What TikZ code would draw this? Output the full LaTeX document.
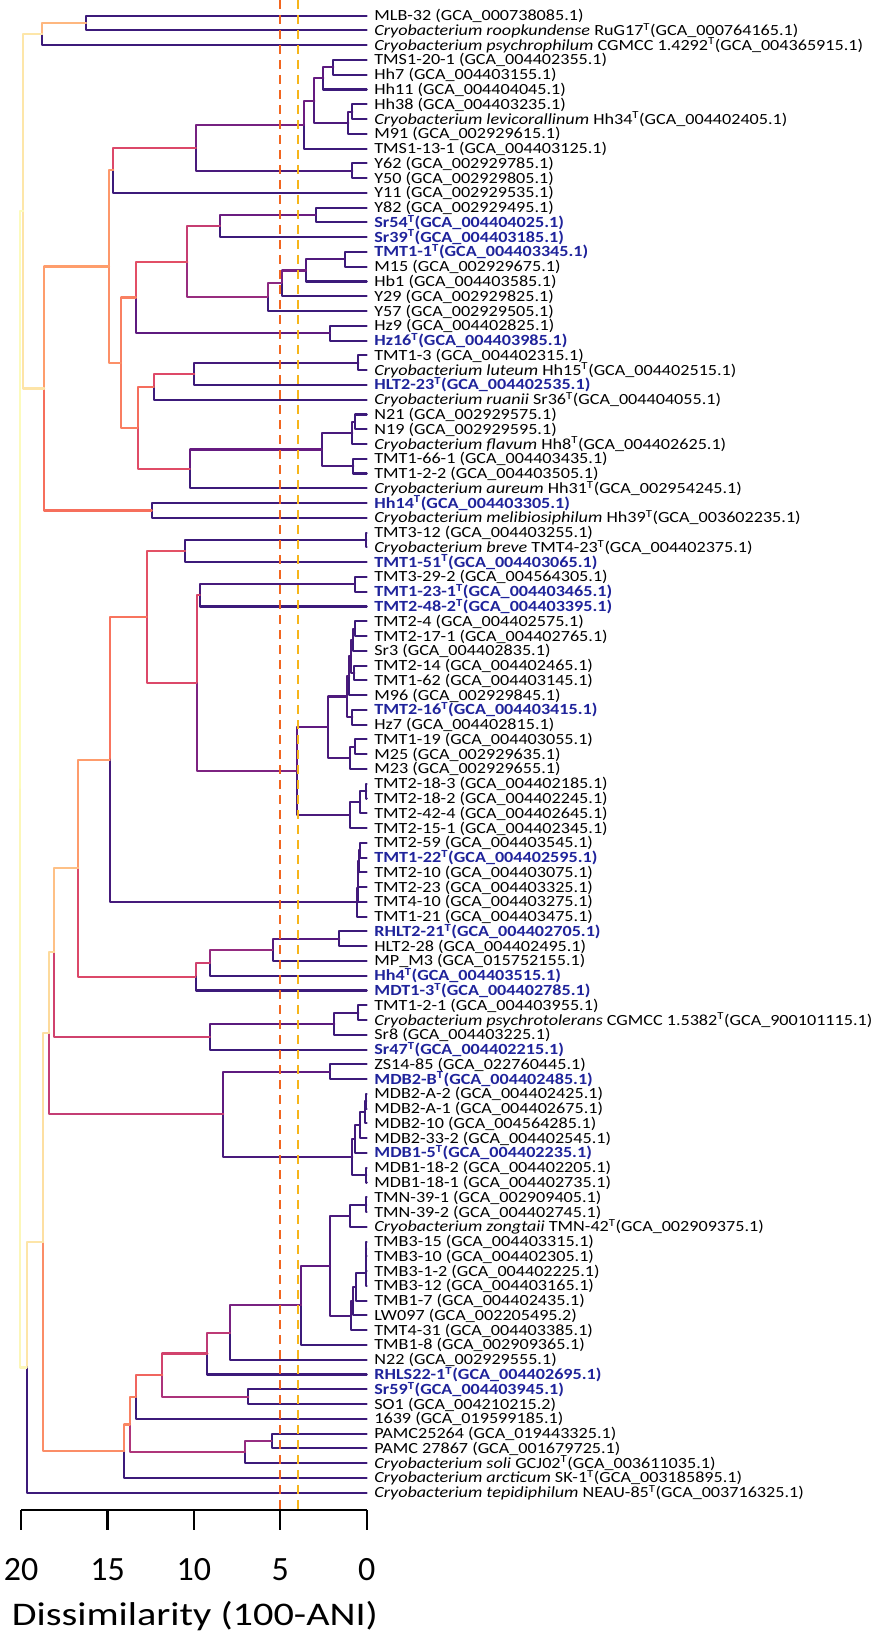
\documentclass[tikz,border=0pt]{standalone}
\usepackage{fontspec}
\setmainfont{Carlito}
\usepackage{graphicx}
\usetikzlibrary{calc}

% magma steps for the branches
\definecolor{mag2}{HTML}{3C1A7A}
\definecolor{mag3}{HTML}{641A80}
\definecolor{mag4}{HTML}{8C2981}
\definecolor{mag5}{HTML}{B73779}
\definecolor{mag6}{HTML}{DE4968}
\definecolor{mag7}{HTML}{F7705C}
\definecolor{mag8}{HTML}{FE9F6D}
\definecolor{mag9}{HTML}{FECF92}
\definecolor{mag10}{HTML}{FCFDBF}
\definecolor{typeblue}{RGB}{31,35,155}
\definecolor{cutA}{HTML}{F1661F}
\definecolor{cutB}{HTML}{F6B51A}

\newcommand\sT{\textsuperscript{T}}
\newcommand\gca[1]{(GCA\_#1)}
\newcommand\cryo[1]{\textit{Cryobacterium #1}}
\newcommand\typestr[1]{\textcolor{typeblue}{\bfseries #1}}

% colour of a clade from its height
\newcommand\magma[2]{%
  \pgfmathsetmacro\magT{min(2+0.4*#2,9.999)}%
  \pgfmathtruncatemacro\magK{floor(\magT)}%
  \pgfmathtruncatemacro\magKK{\magK+1}%
  \pgfmathsetmacro\magP{100*(\magKK-\magT)}%
  \edef\magDo{\noexpand\colorlet{#1}{mag\magK!\magP!mag\magKK}}\magDo
}
% clade: name, height, upper child, lower child
\newcommand\clade[4]{%
  \path let \p1=($(#3)!0.5!(#4)$) in ({(366.7-17.28*#2)*1pt},\y1) coordinate (#1);
  \magma{c#1}{#2}%
  \draw[branch,c#3] (#1) |- (#3);
  \draw[branch,c#4] (#1) |- (#4);
}

\begin{document}
\begin{tikzpicture}[x=1pt,y=-1pt,
        branch/.style={
            % The line
            line width=2.1pt,
            line cap=round,
            line join=round
        },
        leaflab/.style={
            % The box
            anchor=west,
            inner xsep=7.5pt,
            inner ysep=0pt,
            text height=11pt,
            text depth=1pt,
            % Font
            font={\fontsize{15.5}{16}\selectfont}
        },
        axisline/.style={
            line width=2.3pt,
            color=black
        },
        ticklab/.style={
            anchor=base,
            inner sep=0pt,
            font={\fontsize{34}{36}\selectfont}
        },
        cutline/.style={
            line width=2pt,
            dash pattern=on 9pt off 6pt
        }
    ]
    \useasboundingbox (0,0) rectangle (874,1637);

    % leaves
    \foreach \lab [count=\i] in {
        MLB-32 \gca{000738085.1},
        \cryo{roopkundense} RuG17\sT\gca{000764165.1},
        \cryo{psychrophilum} CGMCC 1.4292\sT\gca{004365915.1},
        TMS1-20-1 \gca{004402355.1},
        Hh7 \gca{004403155.1},
        Hh11 \gca{004404045.1},
        Hh38 \gca{004403235.1},
        \cryo{levicorallinum} Hh34\sT\gca{004402405.1},
        M91 \gca{002929615.1},
        TMS1-13-1 \gca{004403125.1},
        Y62 \gca{002929785.1},
        Y50 \gca{002929805.1},
        Y11 \gca{002929535.1},
        Y82 \gca{002929495.1},
        \typestr{Sr54\sT\gca{004404025.1}},
        \typestr{Sr39\sT\gca{004403185.1}},
        \typestr{TMT1-1\sT\gca{004403345.1}},
        M15 \gca{002929675.1},
        Hb1 \gca{004403585.1},
        Y29 \gca{002929825.1},
        Y57 \gca{002929505.1},
        Hz9 \gca{004402825.1},
        \typestr{Hz16\sT\gca{004403985.1}},
        TMT1-3 \gca{004402315.1},
        \cryo{luteum} Hh15\sT\gca{004402515.1},
        \typestr{HLT2-23\sT\gca{004402535.1}},
        \cryo{ruanii} Sr36\sT\gca{004404055.1},
        N21 \gca{002929575.1},
        N19 \gca{002929595.1},
        \cryo{flavum} Hh8\sT\gca{004402625.1},
        TMT1-66-1 \gca{004403435.1},
        TMT1-2-2 \gca{004403505.1},
        \cryo{aureum} Hh31\sT\gca{002954245.1},
        \typestr{Hh14\sT\gca{004403305.1}},
        \cryo{melibiosiphilum} Hh39\sT\gca{003602235.1},
        TMT3-12 \gca{004403255.1},
        \cryo{breve} TMT4-23\sT\gca{004402375.1},
        \typestr{TMT1-51\sT\gca{004403065.1}},
        TMT3-29-2 \gca{004564305.1},
        \typestr{TMT1-23-1\sT\gca{004403465.1}},
        \typestr{TMT2-48-2\sT\gca{004403395.1}},
        TMT2-4 \gca{004402575.1},
        TMT2-17-1 \gca{004402765.1},
        Sr3 \gca{004402835.1},
        TMT2-14 \gca{004402465.1},
        TMT1-62 \gca{004403145.1},
        M96 \gca{002929845.1},
        \typestr{TMT2-16\sT\gca{004403415.1}},
        Hz7 \gca{004402815.1},
        TMT1-19 \gca{004403055.1},
        M25 \gca{002929635.1},
        M23 \gca{002929655.1},
        TMT2-18-3 \gca{004402185.1},
        TMT2-18-2 \gca{004402245.1},
        TMT2-42-4 \gca{004402645.1},
        TMT2-15-1 \gca{004402345.1},
        TMT2-59 \gca{004403545.1},
        \typestr{TMT1-22\sT\gca{004402595.1}},
        TMT2-10 \gca{004403075.1},
        TMT2-23 \gca{004403325.1},
        TMT4-10 \gca{004403275.1},
        TMT1-21 \gca{004403475.1},
        \typestr{RHLT2-21\sT\gca{004402705.1}},
        HLT2-28 \gca{004402495.1},
        MP\_M3 \gca{015752155.1},
        \typestr{Hh4\sT\gca{004403515.1}},
        \typestr{MDT1-3\sT\gca{004402785.1}},
        TMT1-2-1 \gca{004403955.1},
        \cryo{psychrotolerans} CGMCC 1.5382\sT\gca{900101115.1},
        Sr8 \gca{004403225.1},
        \typestr{Sr47\sT\gca{004402215.1}},
        ZS14-85 \gca{022760445.1},
        \typestr{MDB2-B\sT\gca{004402485.1}},
        MDB2-A-2 \gca{004402425.1},
        MDB2-A-1 \gca{004402675.1},
        MDB2-10 \gca{004564285.1},
        MDB2-33-2 \gca{004402545.1},
        \typestr{MDB1-5\sT\gca{004402235.1}},
        MDB1-18-2 \gca{004402205.1},
        MDB1-18-1 \gca{004402735.1},
        TMN-39-1 \gca{002909405.1},
        TMN-39-2 \gca{004402745.1},
        \cryo{zongtaii} TMN-42\sT\gca{002909375.1},
        TMB3-15 \gca{004403315.1},
        TMB3-10 \gca{004402305.1},
        TMB3-1-2 \gca{004402225.1},
        TMB3-12 \gca{004403165.1},
        TMB1-7 \gca{004402435.1},
        LW097 \gca{002205495.2},
        TMT4-31 \gca{004403385.1},
        TMB1-8 \gca{002909365.1},
        N22 \gca{002929555.1},
        \typestr{RHLS22-1\sT\gca{004402695.1}},
        \typestr{Sr59\sT\gca{004403945.1}},
        SO1 \gca{004210215.2},
        1639 \gca{019599185.1},
        PAMC25264 \gca{019443325.1},
        PAMC 27867 \gca{001679725.1},
        \cryo{soli} GCJ02\sT\gca{003611035.1},
        \cryo{arcticum} SK-1\sT\gca{003185895.1},
        \cryo{tepidiphilum} NEAU-85\sT\gca{003716325.1}
    }{
        \node (r\i) [leaflab] at (366.7,{15.67+(\i-1)*14.77}) {\scalebox{1.17}[1]{\lab}};
        \xglobal\colorlet{cr\i}{mag2}
    }

    % first big group
    \clade{k1}{16.24}{r1}{r2}
    \clade{k2}{18.77}{k1}{r3}
    \clade{k3}{1.93}{r4}{r5}
    \clade{k4}{2.51}{k3}{r6}
    \clade{k5}{0.83}{r7}{r8}
    \clade{k6}{1.06}{k5}{r9}
    \clade{k7}{3.03}{k4}{k6}
    \clade{k8}{3.63}{k7}{r10}
    \clade{k9}{0.83}{r11}{r12}
    \clade{k10}{9.88}{k8}{k9}
    \clade{k11}{14.66}{k10}{r13}
    \clade{k12}{2.95}{r14}{r15}
    \clade{k13}{8.49}{k12}{r16}
    \clade{k14}{1.26}{r17}{r18}
    \clade{k15}{3.51}{k14}{r19}
    \clade{k16}{4.92}{k15}{r20}
    \clade{k17}{5.73}{k16}{r21}
    \clade{k18}{10.38}{k13}{k17}
    \clade{k19}{2.12}{r22}{r23}
    \clade{k20}{13.35}{k18}{k19}
    \clade{k21}{0.49}{r24}{r25}
    \clade{k22}{9.98}{k21}{r26}
    \clade{k23}{12.31}{k22}{r27}
    \clade{k24}{0.68}{r28}{r29}
    \clade{k25}{0.83}{k24}{r30}
    \clade{k26}{0.78}{r31}{r32}
    \clade{k27}{2.6}{k25}{k26}
    \clade{k28}{10.23}{k27}{r33}
    \clade{k29}{13.26}{k23}{k28}
    \clade{k30}{14.22}{k20}{k29}
    \clade{k31}{14.91}{k11}{k30}
    \clade{k32}{12.44}{r34}{r35}
    \clade{k33}{18.66}{k31}{k32}
    \clade{k34}{19.87}{k2}{k33}

    % second big group
    \clade{k35}{0.02}{r36}{r37}
    \clade{k36}{10.51}{k35}{r38}
    \clade{k37}{0.68}{r39}{r40}
    \clade{k38}{9.65}{k37}{r41}
    \clade{k39}{0.68}{r42}{r43}
    \clade{k40}{0.81}{k39}{r44}
    \clade{k41}{0.72}{r45}{r46}
    \clade{k42}{0.91}{k40}{k41}
    \clade{k43}{1.0}{k42}{r47}
    \clade{k44}{0.83}{r48}{r49}
    \clade{k45}{1.16}{k43}{k44}
    \clade{k46}{0.68}{r50}{r51}
    \clade{k47}{0.97}{k46}{r52}
    \clade{k48}{2.26}{k45}{k47}
    \clade{k49}{0.02}{r53}{r54}
    \clade{k50}{0.39}{k49}{r55}
    \clade{k51}{0.97}{k50}{r56}
    \clade{k52}{4.05}{k48}{k51}
    \clade{k53}{9.84}{k38}{k52}
    \clade{k54}{12.73}{k36}{k53}
    \clade{k55}{0.39}{r57}{r58}
    \clade{k56}{0.45}{k55}{r59}
    \clade{k57}{0.49}{k56}{r60}
    \clade{k58}{0.52}{k57}{r61}
    \clade{k59}{0.55}{k58}{r62}
    \clade{k60}{14.86}{k54}{k59}
    \clade{k61}{1.58}{r63}{r64}
    \clade{k62}{5.44}{k61}{r65}
    \clade{k63}{9.07}{k62}{r66}
    \clade{k64}{9.9}{k63}{r67}
    \clade{k65}{16.69}{k60}{k64}
    \clade{k66}{0.49}{r68}{r69}
    \clade{k67}{1.87}{k66}{r70}
    \clade{k68}{9.07}{k67}{r71}
    \clade{k69}{18.08}{k65}{k68}
    \clade{k70}{2.12}{r72}{r73}
    \clade{k71}{0.02}{r74}{r75}
    \clade{k72}{0.1}{k71}{r76}
    \clade{k73}{0.39}{k72}{r77}
    \clade{k74}{0.68}{k73}{r78}
    \clade{k75}{0.02}{r79}{r80}
    \clade{k76}{0.83}{k74}{k75}
    \clade{k77}{8.3}{k70}{k76}
    \clade{k78}{18.37}{k69}{k77}
    \clade{k79}{0.02}{r81}{r82}
    \clade{k80}{0.97}{k79}{r83}
    \clade{k81}{0.02}{r84}{r85}
    \clade{k82}{0.03}{k81}{r86}
    \clade{k83}{0.04}{k82}{r87}
    \clade{k84}{0.64}{k83}{r88}
    \clade{k85}{0.77}{k84}{r89}
    \clade{k86}{0.91}{k85}{r90}
    \clade{k87}{2.12}{k80}{k86}
    \clade{k88}{3.8}{k87}{r91}
    \clade{k89}{7.91}{k88}{r92}
    \clade{k90}{9.22}{k89}{r93}
    \clade{k91}{6.85}{r94}{r95}
    \clade{k92}{11.83}{k90}{k91}
    \clade{k93}{13.35}{k92}{r96}
    \clade{k94}{5.5}{r97}{r98}
    \clade{k95}{7.04}{k94}{r99}
    \clade{k96}{13.7}{k93}{k95}
    \clade{k97}{14.03}{k96}{r100}
    \clade{k98}{18.71}{k78}{k97}
    \clade{k99}{19.68}{k98}{r101}

    % root
    \clade{k100}{20.06}{k34}{k99}

    % species cut-offs (95 and 96 % ANI)
    \coordinate (cut95) at ({366.7-17.28*5},0);
    \coordinate (cut96) at ({366.7-17.28*4},0);
    \coordinate (axisLeft) at ({366.7-17.28*20},1510);
    \coordinate (axisRight) at (366.7,1510);
    \draw[cutline,cutA] (cut95) -- (cut95 |- axisLeft);
    \draw[cutline,cutB] (cut96) -- (cut96 |- axisLeft);

    % axis
    \draw[axisline] (axisLeft) -- (axisRight);
    \foreach \d in {0,5,...,20}{
        \coordinate (tickTop\d) at ({366.7-17.28*\d},1510);
        \draw[axisline] (tickTop\d) -- ++(0,20);
        \node (tick\d) [ticklab] at ({366.7-17.28*\d},1580.7) {\d};
    }
    \node (axisTitle) [anchor=base,inner sep=0pt,font={\fontsize{33}{36}\selectfont}]
        at (194.9,1625.7) {\scalebox{1.22}[1]{Dissimilarity (100-ANI)}};
\end{tikzpicture}
\end{document}
